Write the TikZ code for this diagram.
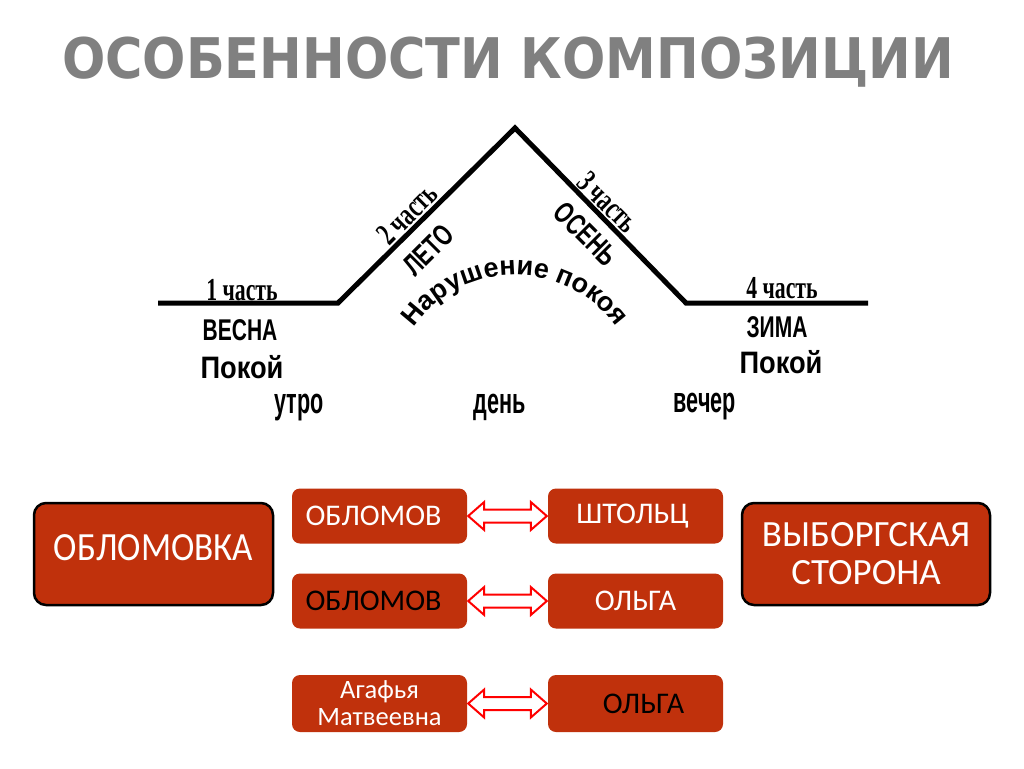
\documentclass[tikz,border=0pt]{standalone}
\usepackage{graphicx}
\usepackage{fontspec}
\setmainfont{Liberation Sans}
\newfontfamily\titlefont{DejaVu Sans}
\newfontfamily\boxfont{Carlito}
\newfontfamily\timesfont{Liberation Serif}
\usetikzlibrary{decorations.text,calc}
\definecolor{boxred}{RGB}{192,49,12}
\definecolor{titlegray}{RGB}{128,128,128}
\newcommand\pairarrow[2]{%
  \draw[dblarrow] ($(#1.east)+(1,0)$) -- ($(#1.east)+(17,-14)$) -- ($(#1.east)+(17,-6.5)$)
    -- ($(#2.west)+(-17,-6.5)$) -- ($(#2.west)+(-17,-14)$) -- ($(#2.west)+(-1,0)$)
    -- ($(#2.west)+(-17,14)$) -- ($(#2.west)+(-17,6.5)$) -- ($(#1.east)+(17,6.5)$)
    -- ($(#1.east)+(17,14)$) -- cycle;}
\tikzset{
  partlbl/.style={font=\timesfont\bfseries\fontsize{32}{34}\selectfont},
  seasonlbl/.style={font=\bfseries\fontsize{30}{32}\selectfont},
  restlbl/.style={font=\bfseries\fontsize{31}{33}\selectfont},
  timelbl/.style={font=\bfseries\fontsize{36}{38}\selectfont},
  redbox/.style={fill=boxred, rounded corners=8pt, text=white, inner sep=0pt,
    font=\boxfont\fontsize{30}{32}\selectfont, minimum width=175pt, minimum height=55pt},
  bigbox/.style={fill=boxred, draw=black, line width=2.5pt, rounded corners=12pt, text=white,
    inner sep=0pt, font=\boxfont\fontsize{40}{38}\selectfont, minimum width=239pt, minimum height=102pt},
  dblarrow/.style={draw=red, fill=white, line width=2pt, line join=miter},
  mountain/.style={line width=5pt, line join=miter}
}
\begin{document}
\begin{tikzpicture}[x=1pt,y=-1pt]
\useasboundingbox (0,0) rectangle (1024,768);
\fill[white] (0,0) rectangle (1024,768);

\node[anchor=base, text=titlegray, font=\titlefont\bfseries\fontsize{56}{60}\selectfont] (title) at (508,78) {\scalebox{0.91}[1]{ОСОБЕННОСТИ КОМПОЗИЦИИ}};

% mountain line
\coordinate (m0) at (158,303);
\coordinate (m1) at (338,303);
\coordinate (m2) at (515,128);
\coordinate (m3) at (686,303);
\coordinate (m4) at (868,303);
\draw[mountain] (m0) -- (m1) -- (m2) -- (m3) -- (m4);

% left plateau
\node[partlbl, anchor=base] (p1) at (242,300) {\scalebox{0.68}[1]{1 часть}};
\node[seasonlbl, anchor=base] (s1) at (240,340) {\scalebox{0.7}[1]{ВЕСНА}};
\node[restlbl, anchor=base] (r1) at (242,378) {\scalebox{0.88}[1]{Покой}};
\node[timelbl, anchor=base] (t1) at (299,413) {\scalebox{0.6}[1]{утро}};

% slopes
\node[partlbl, rotate=45] (p2) at (407,214) {\scalebox{0.68}[1]{2 часть}};
\node[seasonlbl, rotate=45] (s2) at (428,250) {\scalebox{0.7}[1]{ЛЕТО}};
\node[partlbl, rotate=-45] (p3) at (608,202) {\scalebox{0.68}[1]{3 часть}};
\node[seasonlbl, rotate=-45] (s3) at (586,234) {\scalebox{0.7}[1]{ОСЕНЬ}};
\path[decorate, decoration={text along path, text align=center,
  text={|\bfseries\fontsize{27}{28}\selectfont|Нарушение покоя}}]
  ($(515,400)+(200:125)$) arc[start angle=200, end angle=340, radius=125];
\node[timelbl, anchor=base] (t2) at (500,413) {\scalebox{0.6}[1]{день}};

% right plateau
\node[partlbl, anchor=base] (p4) at (782,298) {\scalebox{0.68}[1]{4 часть}};
\node[seasonlbl, anchor=base] (s4) at (777,337) {\scalebox{0.7}[1]{ЗИМА}};
\node[restlbl, anchor=base] (r4) at (781,373) {\scalebox{0.88}[1]{Покой}};
\node[timelbl, anchor=base] (t3) at (705,412) {\scalebox{0.6}[1]{вечер}};

% boxes
\node[bigbox] (obk) at (153.5,554) {\raisebox{12pt}{\scalebox{0.88}[1]{ОБЛОМОВКА}}};
\node[bigbox, minimum width=248pt, align=center, font=\boxfont\fontsize{37}{38}\selectfont] (vyb) at (866,554) {ВЫБОРГСКАЯ\\СТОРОНА};

\node[redbox] (ob1) at (379.5,516) {\hspace*{-12pt}ОБЛОМОВ};
\node[redbox] (sh) at (635.5,516) {\hspace*{-6pt}ШТОЛЬЦ};
\node[redbox, text=black] (ob2) at (379.5,601) {\hspace*{-12pt}ОБЛОМОВ};
\node[redbox] (ol1) at (635.5,601) {ОЛЬГА};
\node[redbox, minimum height=57pt, align=center, font=\boxfont\fontsize{26.5}{27}\selectfont] (ag) at (379.5,703.5) {Агафья\\Матвеевна};
\node[redbox, minimum height=57pt, text=black] (ol2) at (635.5,703.5) {\hspace*{16pt}ОЛЬГА};

\pairarrow{ob1}{sh}
\pairarrow{ob2}{ol1}
\pairarrow{ag}{ol2}
\end{tikzpicture}
\end{document}
